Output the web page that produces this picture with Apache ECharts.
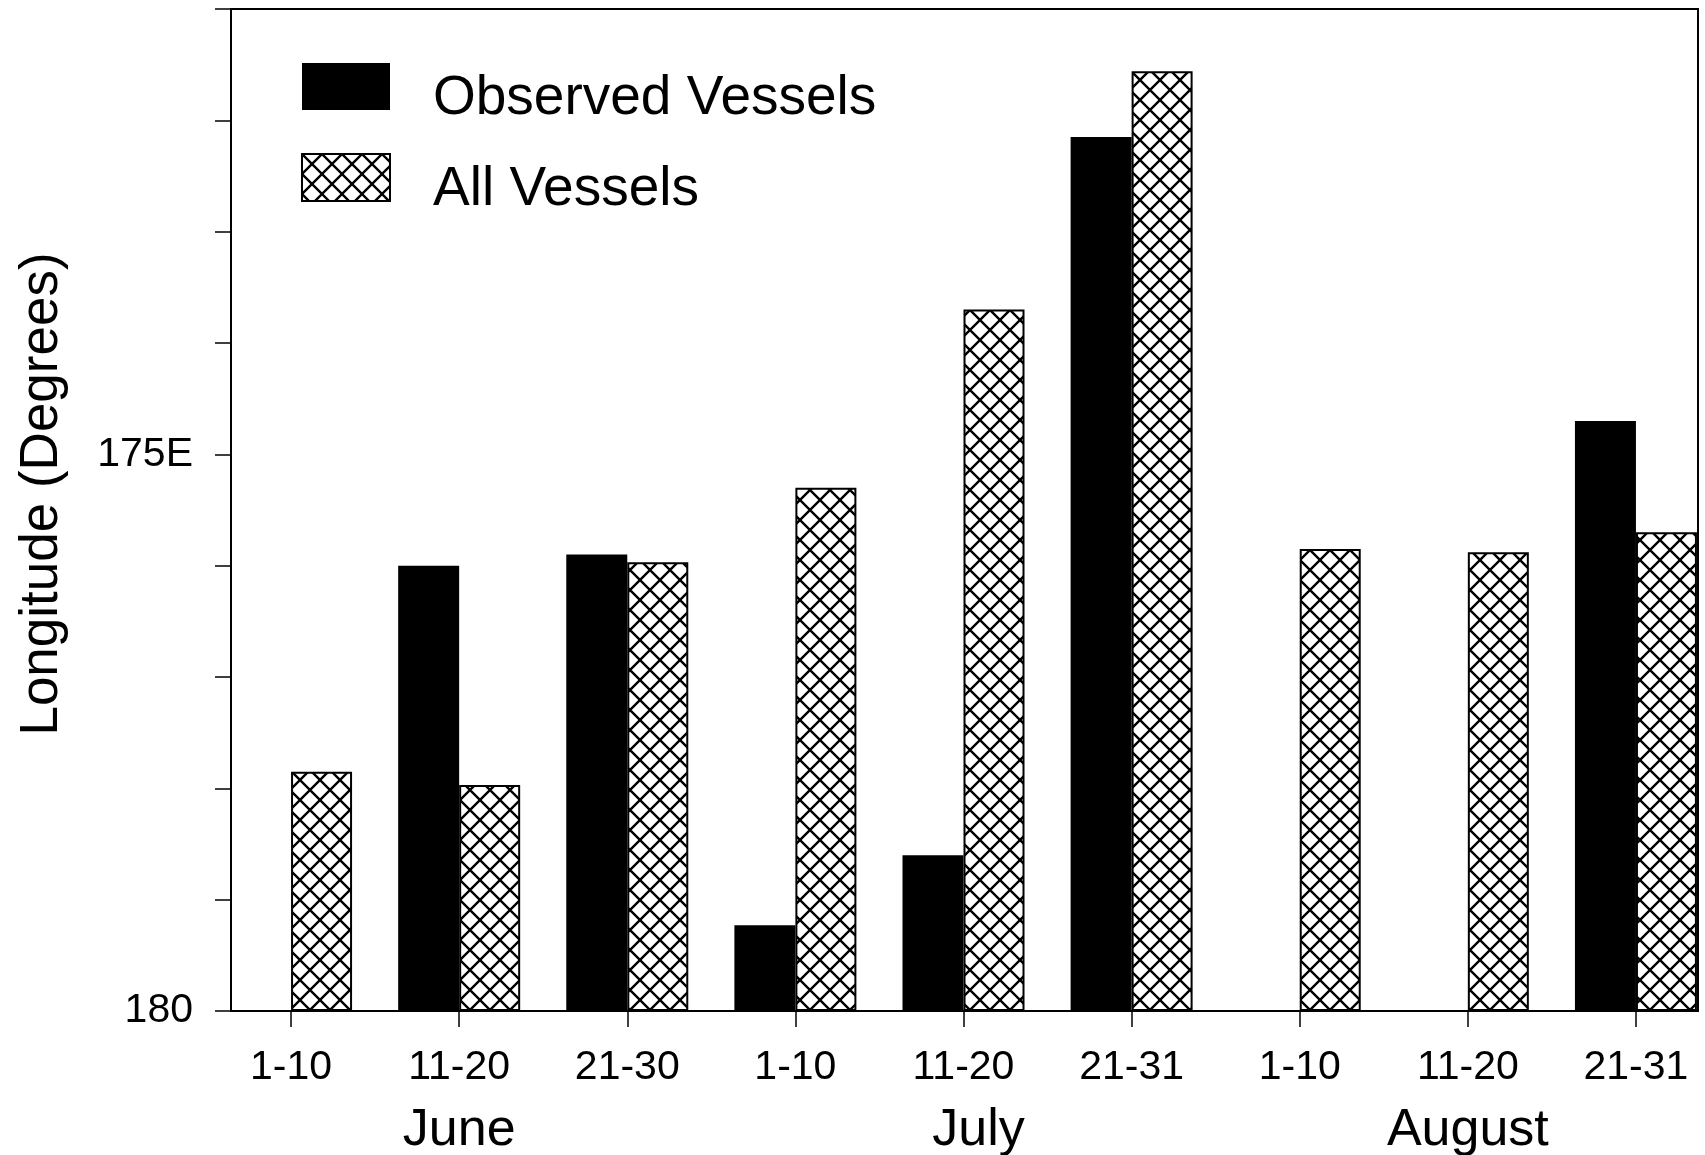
<!DOCTYPE html>
<html>
<head>
<meta charset="utf-8">
<script src="https://cdn.jsdelivr.net/npm/echarts@6/dist/echarts.min.js"></script>
<style>
  html, body { margin: 0; padding: 0; background: #fff; }
  #chart { width: 1705px; height: 1155px; }
</style>
</head>
<body>
<div id="chart"></div>
<script>
// ten-day periods, June to August
const periods = ['1-10', '11-20', '21-30', '1-10', '11-20', '21-31', '1-10', '11-20', '21-31'];
const months = ['June', 'July', 'August'];

// mean longitude (degrees E), null where no observed vessels
const observedLon = [null, 176.0, 175.9, 179.23, 178.6, 172.15, null, null, 174.7];
const allLon = [177.85, 177.97, 175.97, 175.3, 173.7, 171.56, 175.85, 175.88, 175.7];

// y axis is distance west of 180, labelled as longitude
const yTicks = { 0: '180', 5: '175E' };

const FONT = 'Liberation Sans, Arial, sans-serif';

// cross-hatch fill
function hatch() {
  const c = document.createElement('canvas');
  c.width = 20; c.height = 20;
  const g = c.getContext('2d');
  g.fillStyle = '#fff';
  g.fillRect(0, 0, 20, 20);
  g.strokeStyle = '#000';
  g.lineWidth = 2.4;
  g.beginPath();
  g.moveTo(-2, -2); g.lineTo(22, 22);
  g.moveTo(22, -2); g.lineTo(-2, 22);
  g.stroke();
  return c;
}

const toDepth = arr => arr.map(v => (v == null ? null : +(180 - v).toFixed(2)));

const chart = echarts.init(document.getElementById('chart'));
chart.setOption({
  animation: false,
  backgroundColor: '#fff',
  grid: [
    // bars
    { left: 207, right: -15, top: 9, bottom: 144, outerBoundsMode: 'none', containLabel: false },
    // frame
    { left: 231, right: 7, top: 9, bottom: 144, show: true, borderColor: '#000', borderWidth: 2,
      outerBoundsMode: 'none', containLabel: false }
  ],
  legend: {
    orient: 'vertical',
    left: 301,
    top: 63,
    padding: 0,
    itemWidth: 88,
    itemHeight: 47,
    itemGap: 27,
    icon: 'rect',
    formatter: name => '{t|' + name + '}',
    textStyle: {
      fontFamily: FONT,
      fontSize: 55,
      color: '#000',
      padding: [0, 0, 0, 38],
      rich: {
        t: { fontFamily: FONT, fontSize: 55, color: '#000', padding: [24, 0, 0, 0] }
      }
    },
    data: ['Observed Vessels', 'All Vessels']
  },
  xAxis: [
    {
      type: 'category',
      gridIndex: 0,
      data: periods,
      axisLine: { show: false },
      axisTick: { show: true, alignWithLabel: true, length: 16, lineStyle: { color: '#000', width: 1.5 } },
      axisLabel: { fontFamily: FONT, fontSize: 41, color: '#000', margin: 36, interval: 0 }
    },
    {
      type: 'category',
      gridIndex: 0,
      position: 'bottom',
      data: [
        months[0],
        { value: months[1], textStyle: { padding: [0, 0, 0, 30] } },
        months[2]
      ],
      axisLine: { show: false },
      axisTick: { show: false },
      axisLabel: { fontFamily: FONT, fontSize: 52, color: '#000', margin: 94, interval: 0 }
    },
    { type: 'value', gridIndex: 1, show: false, min: 0, max: 1 }
  ],
  yAxis: [
    { type: 'value', gridIndex: 0, min: 0, max: 9, show: false },
    {
      type: 'value',
      gridIndex: 1,
      min: 0,
      max: 9,
      interval: 1,
      name: 'Longitude (Degrees)',
      nameLocation: 'middle',
      nameGap: 162,
      nameTextStyle: { fontFamily: FONT, fontSize: 53, color: '#000', padding: [0, 0, 0, 32] },
      axisLine: { show: true, lineStyle: { color: '#000', width: 2 } },
      axisTick: { show: true, inside: false, length: 16, lineStyle: { color: '#000', width: 1.5 } },
      axisLabel: {
        fontFamily: FONT,
        fontSize: 41,
        color: '#000',
        margin: 38,
        formatter: v => yTicks[v] || ''
      },
      splitLine: { show: false }
    }
  ],
  series: [
    {
      name: 'Observed Vessels',
      type: 'bar',
      xAxisIndex: 0,
      yAxisIndex: 0,
      barWidth: 61,
      barGap: '0%',
      itemStyle: { color: '#000' },
      data: toDepth(observedLon)
    },
    {
      name: 'All Vessels',
      type: 'bar',
      xAxisIndex: 0,
      yAxisIndex: 0,
      barWidth: 61,
      barGap: '0%',
      itemStyle: {
        color: { image: hatch(), repeat: 'repeat' },
        borderColor: '#000',
        borderWidth: 2
      },
      data: toDepth(allLon)
    }
  ]
});
</script>
</body>
</html>
